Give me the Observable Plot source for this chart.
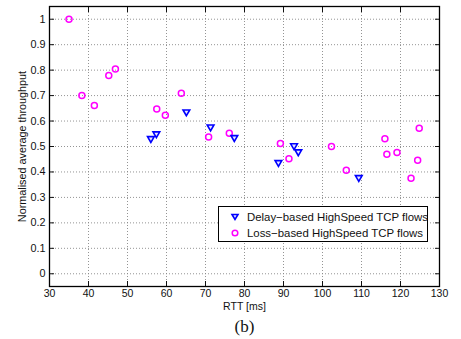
<!DOCTYPE html>
<html>
<head>
<meta charset="utf-8">
<script src="https://cdn.jsdelivr.net/npm/d3@7"></script>
<script src="https://cdn.jsdelivr.net/npm/@observablehq/plot@0.6"></script>
<style>
  html, body { margin: 0; padding: 0; background: #fff; }
  #wrap { position: relative; width: 461px; height: 339px; font-family: "Liberation Sans", Arial, sans-serif; }
  #legend { position: absolute; left: 218px; top: 206px; width: 208px; height: 34px; border: 1.3px solid #000; background: #fff; font-size: 11.4px; color: #111; }
  .row { position: absolute; left: 0; height: 14px; display: flex; align-items: center; white-space: nowrap; }
  .row svg { margin-left: 11px; margin-right: 7px; }
</style>
</head>
<body>
<div id="wrap"></div>
<script>
// Delay-based HighSpeed TCP flows
const rttDelay = [56.0, 57.4, 65.1, 71.3, 77.4, 88.7, 92.7, 93.8, 109.3];
const thrDelay = [0.531, 0.550, 0.636, 0.577, 0.535, 0.437, 0.503, 0.479, 0.378];
// Loss-based HighSpeed TCP flows
const rttLoss = [35.0, 38.3, 41.5, 45.2, 46.9, 57.5, 59.7, 63.8, 70.8, 76.1, 89.2, 91.4, 102.3, 106.1, 116.0, 116.5, 119.1, 122.7, 124.4, 124.8];
const thrLoss = [1.0, 0.700, 0.661, 0.779, 0.804, 0.647, 0.623, 0.709, 0.537, 0.552, 0.512, 0.452, 0.500, 0.407, 0.530, 0.470, 0.476, 0.375, 0.446, 0.572];
const xTicks = [30, 40, 50, 60, 70, 80, 90, 100, 110, 120, 130];
const yTicks = [0, 0.1, 0.2, 0.3, 0.4, 0.5, 0.6, 0.7, 0.8, 0.9, 1];
const seriesNames = ["Delay\u2212based HighSpeed TCP flows", "Loss\u2212based HighSpeed TCP flows"];
const xLabel = "RTT [ms]";
const yLabel = "Normalised average throughput";
const caption = "(b)";

const delay = rttDelay.map((x, i) => ({x, y: thrDelay[i]}));
const loss = rttLoss.map((x, i) => ({x, y: thrLoss[i]}));

const blue = "#0000ff", magenta = "#ff00ff";
const fmt = d => d === 0 ? "0" : d === 1 ? "1" : d.toFixed(1);

const plot = Plot.plot({
  width: 461,
  height: 339,
  marginLeft: 49,
  marginRight: 22,
  marginTop: 6,
  marginBottom: 53,
  style: {fontFamily: "Liberation Sans, Arial, sans-serif", fontSize: "10.5px", color: "#111", background: "#fff"},
  x: {domain: [30, 130]},
  y: {domain: [-0.05, 1.05]},
  marks: [
    Plot.gridX(xTicks.slice(1, -1), {stroke: "#888", strokeOpacity: 1, strokeDasharray: "1,2", strokeWidth: 0.9}),
    Plot.gridY(yTicks, {stroke: "#888", strokeOpacity: 1, strokeDasharray: "1,2", strokeWidth: 0.9}),
    Plot.axisX(xTicks, {anchor: "bottom", tickSize: -5, tickPadding: 8, tickFormat: d => String(d), label: xLabel, labelAnchor: "center", labelOffset: 23, labelArrow: "none", fontSize: 10.5}),
    Plot.axisX(xTicks, {anchor: "top", tickSize: -5, tickFormat: () => "", label: null}),
    Plot.axisY(yTicks, {anchor: "left", tickSize: -5, tickPadding: 9, tickFormat: fmt, label: yLabel, labelAnchor: "center", labelOffset: 31, labelArrow: "none", fontSize: 10.8}),
    Plot.axisY(yTicks, {anchor: "right", tickSize: -5, tickFormat: () => "", label: null}),
    Plot.frame({stroke: "#000", strokeWidth: 1.3}),
    Plot.dot(loss, {x: "x", y: "y", r: 3, stroke: magenta, strokeWidth: 1.5, fill: "none"}),
    Plot.dot(delay, {x: "x", y: "y", symbol: "triangle", rotate: 180, r: 2.5, stroke: blue, strokeWidth: 1.6, fill: "#e6e6ff"}),
    Plot.text([caption], {frameAnchor: "bottom", dy: 45, fontFamily: "Liberation Serif, Times New Roman, serif", fontSize: 17, fill: "#111"})
  ]
});
const wrap = document.getElementById("wrap");
wrap.appendChild(plot);

// legend
const legend = document.createElement("div");
legend.id = "legend";
const markers = [
  `<svg width="10" height="10"><path d="M2,2.5L8,2.5L5,7.5Z" fill="#e6e6ff" stroke="${blue}" stroke-width="1.6"/></svg>`,
  `<svg width="10" height="10"><circle cx="5" cy="5" r="2.8" fill="none" stroke="${magenta}" stroke-width="1.5"/></svg>`
];
seriesNames.forEach((name, i) => {
  const row = document.createElement("div");
  row.className = "row";
  row.style.top = (i === 0 ? 3 : 19) + "px";
  row.innerHTML = markers[i] + `<span>${name}</span>`;
  legend.appendChild(row);
});
wrap.appendChild(legend);
</script>
</body>
</html>
